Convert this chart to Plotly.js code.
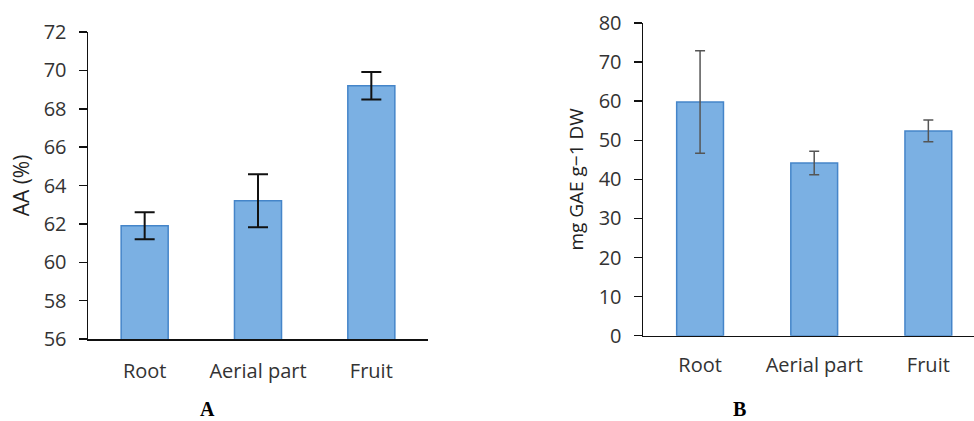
<!DOCTYPE html>
<html>
<head>
<meta charset="utf-8">
<script src="https://cdn.plot.ly/plotly-3.0.1.min.js"></script>
<style>html,body{margin:0;padding:0;background:#fff;}#chart{width:974px;height:421px;}</style>
</head>
<body>
<div id="chart"></div>
<script>
const categories = ["Root", "Aerial part", "Fruit"];
const aaValues = [61.9, 63.2, 69.2];
const aaErrors = [0.7, 1.38, 0.72];
const gaeValues = [59.8, 44.2, 52.4];
const gaeErrors = [13.1, 3.0, 2.8];
const aaTicks = [56, 58, 60, 62, 64, 66, 68, 70, 72];
const gaeTicks = [0, 10, 20, 30, 40, 50, 60, 70, 80];

const W = 974, H = 421;
const fillColor = '#7bb0e3';
const edgeColor = '#4585c9';
const fam = 'Open Sans, Liberation Sans, sans-serif';

const traces = [
  {
    type: 'bar', x: categories, y: aaValues, xaxis: 'x', yaxis: 'y',
    width: 0.415, cliponaxis: true,
    marker: {color: fillColor, line: {color: edgeColor, width: 1.5}},
    error_y: {type: 'data', array: aaErrors, visible: true, color: '#111', thickness: 2, width: 10},
    hoverinfo: 'skip'
  },
  {
    type: 'bar', x: categories, y: gaeValues, xaxis: 'x2', yaxis: 'y2',
    width: 0.41,
    marker: {color: fillColor, line: {color: edgeColor, width: 1.5}},
    error_y: {type: 'data', array: gaeErrors, visible: true, color: '#555', thickness: 1.5, width: 5},
    hoverinfo: 'skip'
  }
];

const layout = {
  width: W, height: H,
  margin: {l: 0, r: 0, t: 0, b: 0},
  paper_bgcolor: '#fff', plot_bgcolor: 'rgba(0,0,0,0)',
  showlegend: false,
  font: {family: fam, size: 20, color: '#333'},
  xaxis: {
    domain: [88 / W, 428 / W], anchor: 'y',
    range: [-0.5, 2.5], type: 'category',
    showline: true, linecolor: '#111', linewidth: 1.5,
    ticks: '', showgrid: false, zeroline: false,
    ticklabelstandoff: 13, tickfont: {family: fam, size: 20, color: '#333'}
  },
  yaxis: {
    domain: [(H - 339) / H, (H - 32) / H], anchor: 'x',
    range: [56, 72], tickvals: aaTicks, ticktext: aaTicks.map(String),
    showline: true, linecolor: '#111', linewidth: 1.5,
    ticks: 'outside', ticklen: 8, tickwidth: 1.5, tickcolor: '#111',
    showgrid: false, zeroline: false, ticklabelstandoff: 8,
    tickfont: {family: fam, size: 20, color: '#333'},
    title: {text: 'AA (%)', font: {family: fam, size: 21, color: '#222'}, standoff: 8}
  },
  xaxis2: {
    domain: [643 / W, 1], anchor: 'y2',
    range: [-0.5, 2.4], type: 'category',
    showline: true, linecolor: '#111', linewidth: 1.5,
    ticks: '', showgrid: false, zeroline: false,
    ticklabelstandoff: 11, tickfont: {family: fam, size: 20, color: '#333'}
  },
  yaxis2: {
    domain: [(H - 335.7) / H, (H - 23) / H], anchor: 'x2',
    range: [0, 80], tickvals: gaeTicks, ticktext: gaeTicks.map(String),
    showline: true, linecolor: '#111', linewidth: 1.5,
    ticks: 'outside', ticklen: 8, tickwidth: 1.5, tickcolor: '#111',
    showgrid: false, zeroline: false, ticklabelstandoff: 8,
    tickfont: {family: fam, size: 20, color: '#333'},
    title: {text: 'mg GAE g\u22121 DW', font: {family: fam, size: 19, color: '#222'}, standoff: 10}
  },
  annotations: [
    {text: '<b>A</b>', xref: 'paper', yref: 'paper', x: 207 / W, y: (H - 409) / H,
     xanchor: 'center', yanchor: 'middle',
     showarrow: false, font: {family: 'Liberation Serif, serif', size: 20, color: '#000'}},
    {text: '<b>B</b>', xref: 'paper', yref: 'paper', x: 739 / W, y: (H - 409) / H,
     xanchor: 'center', yanchor: 'middle',
     showarrow: false, font: {family: 'Liberation Serif, serif', size: 20, color: '#000'}}
  ]
};

Plotly.newPlot('chart', traces, layout, {staticPlot: true, displayModeBar: false});
</script>
</body>
</html>
